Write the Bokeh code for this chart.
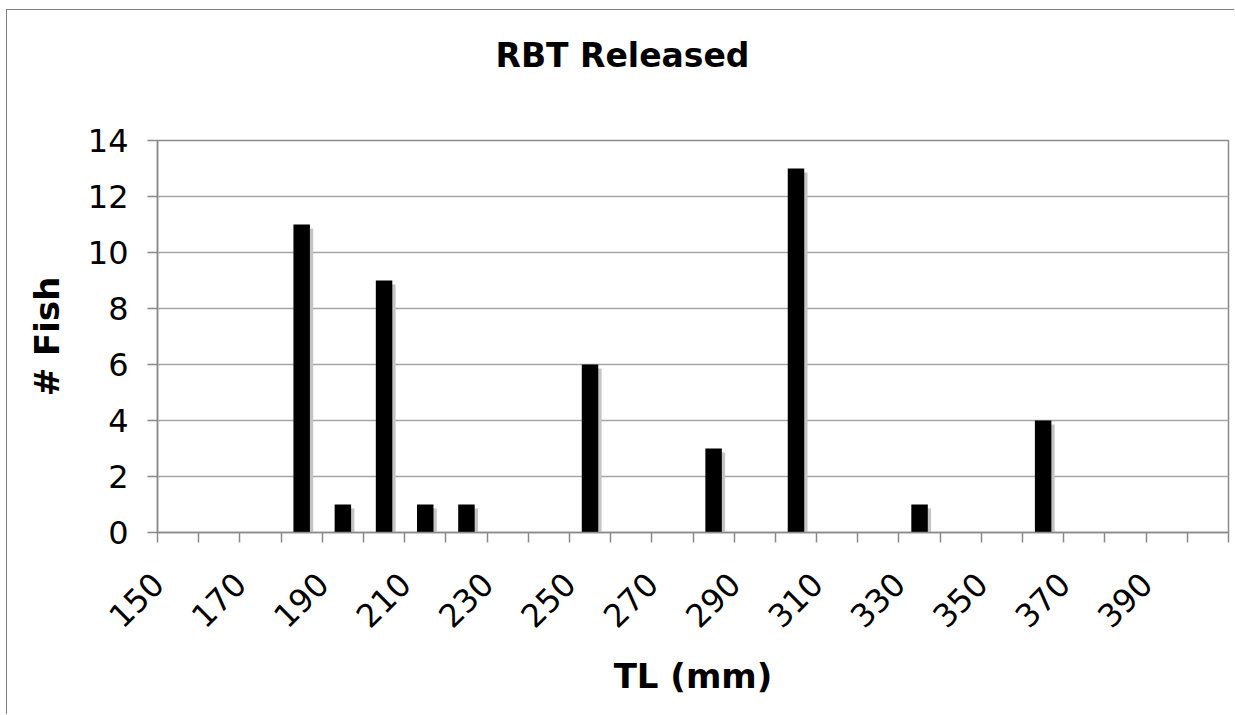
from bokeh.plotting import figure
from bokeh.models import ColumnDataSource, FixedTicker, Range1d, LinearAxis, Title
from bokeh.transform import dodge
from bokeh.embed import file_html
from bokeh.resources import INLINE

# Total length classes (mm) and number of released rainbow trout in each
tl_classes = [150, 160, 170, 180, 190, 200, 210, 220, 230, 240, 250, 260, 270,
              280, 290, 300, 310, 320, 330, 340, 350, 360, 370, 380, 390, 400]
fish_counts = [0, 0, 0, 11, 1, 9, 1, 1, 0, 0, 6, 0, 0,
               3, 0, 13, 0, 0, 1, 0, 0, 4, 0, 0, 0, 0]
x_tick_labels = [150, 170, 190, 210, 230, 250, 270, 290, 310, 330, 350, 370, 390]
y_ticks = [0, 2, 4, 6, 8, 10, 12, 14]

CLASS_WIDTH = 10
BAR_WIDTH = 4
SHADOW_SHIFT = 0.8      # sideways offset of the drop shadow (data units)
SHADOW_DROP = 0.14      # how far the shadow top sits below the bar top
LABEL_SHIFT = 4.9       # slanted labels end a little left of their class centre

FONT = "DejaVu Sans"
GRID = "#a6a6a6"
AXIS = "#8a8a8a"

source = ColumnDataSource(data=dict(
    tl=tl_classes,
    fish=fish_counts,
    shadow=[max(c - SHADOW_DROP, 0) for c in fish_counts],
))

x_lo = tl_classes[0] - CLASS_WIDTH / 2
x_hi = tl_classes[-1] + CLASS_WIDTH / 2
boundaries = [t - CLASS_WIDTH / 2 for t in tl_classes] + [x_hi]

p = figure(
    width=1228, height=705,
    x_range=Range1d(x_lo, x_hi), y_range=Range1d(0, 14),
    x_axis_location=None,
    output_backend="svg", toolbar_location=None,
    min_border_left=150, min_border_right=7,
    min_border_top=130, min_border_bottom=183,
)
p.margin = (9, 0, 0, 6)
p.styles = {"border-left": "1px solid #808080", "border-top": "1px solid #808080"}

# drop shadows first, then the black bars on top
p.vbar(x=dodge("tl", SHADOW_SHIFT, range=p.x_range), top="shadow", width=BAR_WIDTH,
       source=source, color="#c4c4c4", line_color=None)
p.vbar(x="tl", top="fish", width=BAR_WIDTH, source=source,
       fill_color="black", line_color=None)

# title: a blank spacer row keeps the heading well above the plot frame
p.title.text = ""
p.add_layout(Title(text=" ", text_font_size="10px", standoff=53), "above")
p.add_layout(Title(
    text="RBT Released", align="left", offset=338, standoff=0,
    text_font=FONT, text_font_size="33px", text_font_style="bold",
    text_color="black",
), "above")

# frame and grid
p.outline_line_color = AXIS
p.outline_line_width = 1.5
p.background_fill_color = "white"
p.xgrid.grid_line_color = None
p.ygrid.grid_line_color = GRID
p.ygrid.grid_line_width = 1.5
p.ygrid.ticker = FixedTicker(ticks=y_ticks)

# x axis on a slightly shifted copy of the range, so the slanted labels sit
# where they read best; tick marks stay on the class boundaries
p.extra_x_ranges["labels"] = Range1d(x_lo + LABEL_SHIFT, x_hi + LABEL_SHIFT)
xa = LinearAxis(x_range_name="labels")
xa.ticker = FixedTicker(
    ticks=x_tick_labels,
    minor_ticks=[b + LABEL_SHIFT for b in boundaries],
)
xa.major_tick_line_color = None
xa.minor_tick_line_color = AXIS
xa.minor_tick_line_width = 1.5
xa.minor_tick_in = 0
xa.minor_tick_out = 10
xa.axis_line_color = AXIS
xa.axis_line_width = 1.5
xa.major_label_orientation = 0.785398
xa.major_label_text_font = FONT
xa.major_label_text_font_size = "32px"
xa.major_label_text_color = "black"
xa.major_label_standoff = 36
xa.axis_label = "TL (mm)"
xa.axis_label_text_font = FONT
xa.axis_label_text_font_size = "34px"
xa.axis_label_text_font_style = "bold"
xa.axis_label_text_color = "black"
xa.axis_label_standoff = 15
p.add_layout(xa, "below")

# y axis
ya = p.yaxis[0]
ya.ticker = FixedTicker(ticks=y_ticks)
ya.minor_tick_line_color = None
ya.major_tick_line_color = AXIS
ya.major_tick_line_width = 1.5
ya.major_tick_in = 0
ya.major_tick_out = 10
ya.axis_line_color = AXIS
ya.axis_line_width = 1.5
ya.major_label_text_font = FONT
ya.major_label_text_font_size = "32px"
ya.major_label_text_color = "black"
ya.major_label_standoff = 19
ya.axis_label = "# Fish"
ya.axis_label_text_font = FONT
ya.axis_label_text_font_size = "34px"
ya.axis_label_text_font_style = "bold"
ya.axis_label_text_color = "black"
ya.axis_label_standoff = 18

open("out.html", "w").write(file_html(p, INLINE))
